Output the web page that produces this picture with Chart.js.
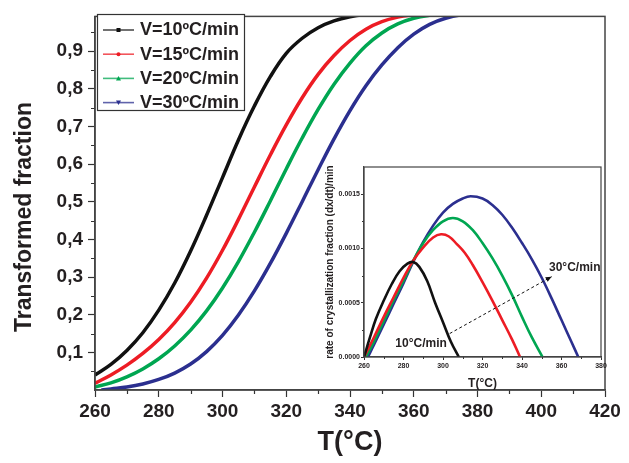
<!DOCTYPE html>
<html><head><meta charset="utf-8">
<script src="https://cdn.jsdelivr.net/npm/chart.js@4/dist/chart.umd.min.js"></script>
<style>
html,body{margin:0;padding:0;background:#fff;}
#wrap{position:relative;width:629px;height:463px;overflow:hidden;}
#main{position:absolute;left:0;top:0;}
#inset{position:absolute;left:310px;top:155px;}
</style></head><body>
<div id="wrap"><canvas id="main" width="629" height="463"></canvas><canvas id="inset" width="310" height="240"></canvas></div>
<script>
// ---------- main chart data: transformed fraction vs T ----------
const seriesLabels = ['V=10ºC/min', 'V=15ºC/min', 'V=20ºC/min', 'V=30ºC/min'];
const seriesColors = ['#111111', '#ed1c24', '#00a651', '#2b2f8f'];
const markerStyles = ['rect', 'circle', 'triangle', 'triangleDown'];

const mainT10 = [260, 265, 270, 275, 280, 285, 290, 295, 300, 305, 310, 315, 320, 325, 330, 335, 340, 345, 350];
const mainF10 = [0.04, 0.068, 0.105, 0.152, 0.212, 0.284, 0.369, 0.464, 0.564, 0.664, 0.754, 0.832, 0.894, 0.934, 0.962, 0.98, 0.991, 0.997, 1.0];
const mainT15 = [260, 265, 270, 275, 280, 285, 290, 295, 300, 305, 310, 315, 320, 325, 330, 335, 340, 345, 350, 355, 360, 365];
const mainF15 = [0.018, 0.04, 0.066, 0.097, 0.134, 0.179, 0.233, 0.297, 0.371, 0.453, 0.539, 0.624, 0.704, 0.776, 0.838, 0.888, 0.928, 0.958, 0.978, 0.99, 0.996, 1.0];
const mainT20 = [260, 265, 270, 275, 280, 285, 290, 295, 300, 305, 310, 315, 320, 325, 330, 335, 340, 345, 350, 355, 360, 365, 370, 375];
const mainF20 = [0.008, 0.019, 0.035, 0.056, 0.083, 0.117, 0.159, 0.21, 0.271, 0.341, 0.419, 0.502, 0.587, 0.669, 0.745, 0.812, 0.868, 0.914, 0.948, 0.972, 0.987, 0.995, 0.999, 1.0];
const mainT30 = [262, 265, 270, 275, 280, 285, 290, 295, 300, 305, 310, 315, 320, 325, 330, 335, 340, 345, 350, 355, 360, 365, 370, 375, 380];
const mainF30 = [0, 0.003, 0.008, 0.016, 0.028, 0.045, 0.069, 0.102, 0.145, 0.199, 0.263, 0.336, 0.416, 0.5, 0.585, 0.667, 0.742, 0.808, 0.863, 0.909, 0.945, 0.971, 0.987, 0.996, 1.0];

const mainXTicks = [260, 280, 300, 320, 340, 360, 380, 400, 420];
const mainXMinor = [270, 290, 310, 330, 350, 370, 390, 410];
const mainYTicks = [0.1, 0.2, 0.3, 0.4, 0.5, 0.6, 0.7, 0.8, 0.9];
const mainYMinor = [0.05, 0.15, 0.25, 0.35, 0.45, 0.55, 0.65, 0.75, 0.85, 0.95];
const mainYTitle = 'Transformed fraction';

// ---------- inset data: rate of crystallization ----------
const insetT10 = [260, 263, 266, 270, 274, 278, 282, 285, 288, 292, 296, 300, 304, 308];
const insetR10 = [0, 0.00018, 0.00035, 0.00052, 0.00067, 0.00079, 0.00086, 0.000875, 0.00083, 0.0007, 0.0005, 0.00032, 0.00014, 0];
const insetT15 = [260, 265, 270, 275, 280, 285, 290, 295, 299, 303, 307, 311, 315, 320, 325, 330, 335, 339];
const insetR15 = [0, 0.00018, 0.00037, 0.00055, 0.00073, 0.00089, 0.00101, 0.0011, 0.00113, 0.00111, 0.00104, 0.00096, 0.00085, 0.00069, 0.00052, 0.00034, 0.00016, 0];
const insetT20 = [261, 265, 270, 275, 280, 285, 290, 295, 300, 305, 310, 315, 320, 325, 330, 335, 340, 345, 350.4];
const insetR20 = [0, 0.00014, 0.00033, 0.00052, 0.0007, 0.00089, 0.00105, 0.00117, 0.00125, 0.00128, 0.00125, 0.00117, 0.00105, 0.00091, 0.00075, 0.00057, 0.00037, 0.00018, 0];
const insetT30 = [262, 265, 270, 275, 280, 285, 290, 295, 300, 305, 310, 314, 320, 325, 330, 335, 340, 345, 350, 355, 360, 365, 368.5];
const insetR30 = [0, 0.00011, 0.0003, 0.00049, 0.00068, 0.00088, 0.00106, 0.00121, 0.00133, 0.00141, 0.00146, 0.00148, 0.00146, 0.0014, 0.00131, 0.00119, 0.00105, 0.0009, 0.00073, 0.00054, 0.00034, 0.00014, 0];

const insetXTicks = [260, 280, 300, 320, 340, 360, 380];
const insetXMinor = [270, 290, 310, 330, 350, 370];
const insetYTicks = [0, 0.0005, 0.001, 0.0015];
const insetYMinor = [0.00025, 0.00075, 0.00125];

const annoTexts = ['10°C/min', '30°C/min'];
const annoX = [288.9, 366.7];
const annoY = [0.000123, 0.000822];
const arrowFrom = [303.4, 0.000216];
const arrowTo = [355, 0.00074];

// ---------- helpers ----------
const FONT = "'Liberation Sans', Arial, Helvetica, sans-serif";
const TXT = '#231f20';
Chart.defaults.font.family = FONT;
Chart.defaults.color = TXT;

function pts(xs, ys) { return xs.map((x, i) => ({x: x, y: ys[i]})); }

function drawMarker(ctx, style, x, y, r, color) {
  ctx.save();
  ctx.fillStyle = color;
  ctx.beginPath();
  if (style === 'rect') { ctx.rect(x - r, y - r, 2 * r, 2 * r); }
  else if (style === 'circle') { ctx.arc(x, y, r, 0, Math.PI * 2); }
  else if (style === 'triangle') { ctx.moveTo(x, y - r - 0.5); ctx.lineTo(x + r + 0.5, y + r); ctx.lineTo(x - r - 0.5, y + r); ctx.closePath(); }
  else { ctx.moveTo(x, y + r + 0.5); ctx.lineTo(x + r + 0.5, y - r); ctx.lineTo(x - r - 0.5, y - r); ctx.closePath(); }
  ctx.fill();
  ctx.restore();
}

const frameAndMinor = {
  id: 'frameAndMinor',
  afterDraw(chart, args, o) {
    const ctx = chart.ctx, a = chart.chartArea;
    const xs = chart.scales.x, ys = chart.scales.y;
    ctx.save();
    ctx.strokeStyle = o.tickColor; ctx.lineWidth = o.tickWidth;
    ctx.beginPath();
    (o.x || []).forEach(v => { const p = Math.round(xs.getPixelForValue(v)) + 0.5; ctx.moveTo(p, a.bottom); ctx.lineTo(p, a.bottom + o.len); });
    (o.y || []).forEach(v => { const p = Math.round(ys.getPixelForValue(v)) + 0.5; ctx.moveTo(a.left, p); ctx.lineTo(a.left - o.len, p); });
    ctx.stroke();
    ctx.strokeStyle = o.frameColor; ctx.lineWidth = o.frameWidth;
    ctx.strokeRect(a.left, a.top, a.right - a.left, a.bottom - a.top);
    if (o.yTitle) {
      ctx.translate(o.yTitleX, o.yTitleY);
      ctx.rotate(-Math.PI / 2);
      ctx.fillStyle = TXT; ctx.font = 'bold ' + o.yTitleSize + 'px ' + FONT;
      ctx.textAlign = 'center'; ctx.textBaseline = 'middle';
      ctx.fillText(o.yTitle, 0, 0);
    }
    ctx.restore();
  }
};

const legendBox = {
  id: 'legendBox',
  afterDraw(chart) {
    const ctx = chart.ctx;
    ctx.save();
    ctx.fillStyle = '#ffffff';
    ctx.fillRect(97.5, 14.5, 147, 96);
    ctx.strokeStyle = '#333333'; ctx.lineWidth = 1.2;
    ctx.strokeRect(97.5, 14.5, 147, 96);
    chart.data.datasets.forEach((ds, i) => {
      const y = 30 + i * 24.2;
      ctx.strokeStyle = ds.borderColor; ctx.globalAlpha = 0.75; ctx.lineWidth = 1.6;
      ctx.beginPath(); ctx.moveTo(103, y); ctx.lineTo(134, y); ctx.stroke();
      ctx.globalAlpha = 1;
      drawMarker(ctx, markerStyles[i], 118.5, y, 2, ds.borderColor);
      ctx.fillStyle = TXT; ctx.font = 'bold 18px ' + FONT; ctx.textBaseline = 'middle'; ctx.textAlign = 'left';
      ctx.fillText(ds.label, 140, y + 0.5);
    });
    ctx.restore();
  }
};

const arrowNotes = {
  id: 'arrowNotes',
  afterDraw(chart) {
    const ctx = chart.ctx, xs = chart.scales.x, ys = chart.scales.y;
    ctx.save();
    const x1 = xs.getPixelForValue(arrowFrom[0]), y1 = ys.getPixelForValue(arrowFrom[1]);
    const x2 = xs.getPixelForValue(arrowTo[0]), y2 = ys.getPixelForValue(arrowTo[1]);
    ctx.strokeStyle = '#111'; ctx.lineWidth = 1; ctx.setLineDash([3, 2.5]);
    ctx.beginPath(); ctx.moveTo(x1, y1); ctx.lineTo(x2, y2); ctx.stroke();
    ctx.setLineDash([]);
    const ang = Math.atan2(y2 - y1, x2 - x1), L = 6, W = 2.6;
    ctx.fillStyle = '#111';
    ctx.beginPath();
    ctx.moveTo(x2, y2);
    ctx.lineTo(x2 - L * Math.cos(ang) + W * Math.sin(ang), y2 - L * Math.sin(ang) - W * Math.cos(ang));
    ctx.lineTo(x2 - L * Math.cos(ang) - W * Math.sin(ang), y2 - L * Math.sin(ang) + W * Math.cos(ang));
    ctx.closePath(); ctx.fill();
    ctx.fillStyle = TXT; ctx.font = 'bold 12px ' + FONT; ctx.textAlign = 'center'; ctx.textBaseline = 'middle';
    annoTexts.forEach((t, i) => ctx.fillText(t, xs.getPixelForValue(annoX[i]), ys.getPixelForValue(annoY[i])));
    ctx.restore();
  }
};

// ---------- main chart ----------
const mainSets = [[mainT10, mainF10], [mainT15, mainF15], [mainT20, mainF20], [mainT30, mainF30]];
new Chart(document.getElementById('main'), {
  type: 'line',
  data: {
    datasets: mainSets.map((s, i) => ({
      label: seriesLabels[i], data: pts(s[0], s[1]),
      borderColor: seriesColors[i], backgroundColor: seriesColors[i],
      borderWidth: 3.5, pointRadius: 0, fill: false, tension: 0.4
    }))
  },
  options: {
    responsive: false, animation: false, devicePixelRatio: 1, events: [],
    layout: {padding: {left: 0, top: 13, right: 24, bottom: 0}},
    plugins: {
      legend: {display: false}, tooltip: {enabled: false},
      frameAndMinor: {x: mainXMinor, y: mainYMinor, len: 4, tickColor: '#333', tickWidth: 1.2, frameColor: '#444', frameWidth: 1.5,
        yTitle: mainYTitle, yTitleX: 25, yTitleY: 217, yTitleSize: 23}
    },
    scales: {
      x: {
        type: 'linear', min: 260, max: 420,
        afterBuildTicks: s => { s.ticks = mainXTicks.map(v => ({value: v})); },
        afterFit: s => { s.height = 73; },
        grid: {drawOnChartArea: false, drawTicks: true, tickLength: 7, tickColor: '#333', tickWidth: 1.2},
        border: {display: true, color: '#444', width: 1.5},
        ticks: {font: {size: 19, weight: 'bold'}, color: TXT, padding: 3, maxRotation: 0, autoSkip: false},
        title: {display: true, text: 'T(°C)', font: {size: 27, weight: 'bold'}, color: TXT, padding: {top: 0, bottom: 4}}
      },
      y: {
        type: 'linear', min: 0, max: 0.992,
        afterBuildTicks: s => { s.ticks = mainYTicks.map(v => ({value: v})); },
        afterFit: s => { s.width = 95; },
        grid: {drawOnChartArea: false, drawTicks: true, tickLength: 7, tickColor: '#333', tickWidth: 1.2},
        border: {display: true, color: '#444', width: 1.5},
        ticks: {font: {size: 19, weight: 'bold'}, color: TXT, padding: 5, autoSkip: false,
          callback: v => v.toFixed(1).replace('.', ',')},
        title: {display: false}
      }
    }
  },
  plugins: [frameAndMinor, legendBox]
});

// ---------- inset chart ----------
const insetSets = [[insetT10, insetR10], [insetT15, insetR15], [insetT20, insetR20], [insetT30, insetR30]];
new Chart(document.getElementById('inset'), {
  type: 'line',
  data: {
    datasets: insetSets.map((s, i) => ({
      label: seriesLabels[i], data: pts(s[0], s[1]),
      borderColor: seriesColors[i], borderWidth: 2.6, pointRadius: 0, fill: false,
      tension: 0.4
    }))
  },
  options: {
    responsive: false, animation: false, devicePixelRatio: 1, events: [],
    layout: {padding: {left: 0, top: 12, right: 19, bottom: 0}},
    plugins: {
      legend: {display: false}, tooltip: {enabled: false},
      frameAndMinor: {x: insetXMinor, y: insetYMinor, len: 2, tickColor: '#333', tickWidth: 1, frameColor: '#444', frameWidth: 1.2}
    },
    scales: {
      x: {
        type: 'linear', min: 260, max: 380,
        afterBuildTicks: s => { s.ticks = insetXTicks.map(v => ({value: v})); },
        afterFit: s => { s.height = 38; },
        grid: {drawOnChartArea: false, drawTicks: true, tickLength: 3, tickColor: '#333', tickWidth: 1},
        border: {display: true, color: '#444', width: 1.2},
        ticks: {font: {size: 7, weight: 'bold'}, color: TXT, padding: 2, maxRotation: 0, autoSkip: false},
        title: {display: true, text: 'T(°C)', font: {size: 12, weight: 'bold'}, color: TXT, padding: {top: 0, bottom: 4}}
      },
      y: {
        type: 'linear', min: 0, max: 0.00175,
        afterBuildTicks: s => { s.ticks = insetYTicks.map(v => ({value: v})); },
        afterFit: s => { s.width = 54; },
        grid: {drawOnChartArea: false, drawTicks: true, tickLength: 3, tickColor: '#333', tickWidth: 1},
        border: {display: true, color: '#444', width: 1.2},
        ticks: {font: {size: 7, weight: 'bold'}, color: TXT, padding: 1, autoSkip: false,
          callback: v => v.toFixed(4)},
        title: {display: true, text: 'rate of crystallization fraction (dx/dt)/min', font: {size: 10, weight: 'bold'}, color: TXT, padding: {top: 14, bottom: 0}}
      }
    }
  },
  plugins: [frameAndMinor, arrowNotes]
});
</script>
</body></html>
